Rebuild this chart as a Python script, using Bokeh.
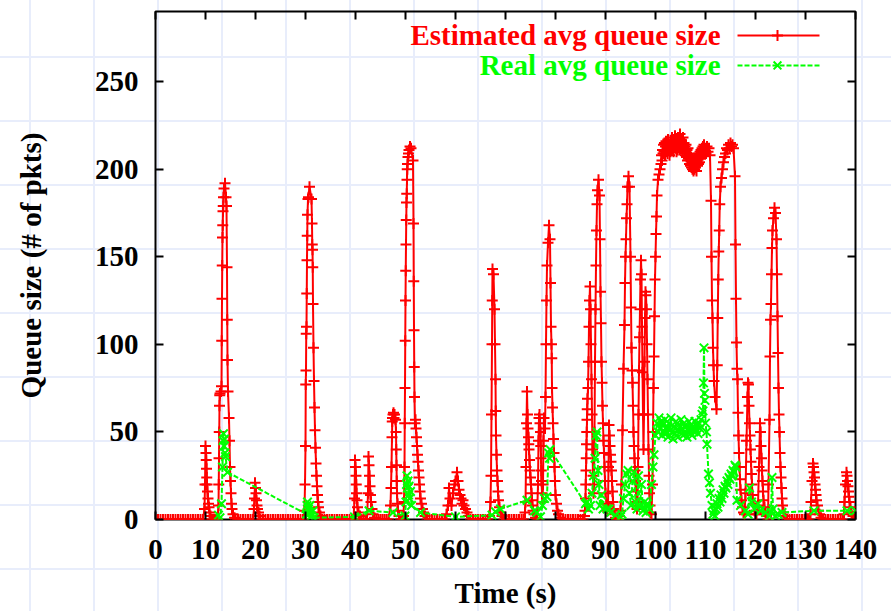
from bokeh.plotting import figure
from bokeh.models import Range1d, LinearAxis, FixedTicker, Label
from bokeh.embed import file_html
from bokeh.resources import INLINE

# ---------------- data ----------------
X_TICKS = [0, 10, 20, 30, 40, 50, 60, 70, 80, 90, 100, 110, 120, 130, 140]
Y_TICKS = [0, 50, 100, 150, 200, 250]
SERIES_NAMES = ["Estimated avg queue size", "Real avg queue size"]

# Estimated avg queue size: (time s, packets)
estimated = [
    (0.0, 0), (0.5, 0), (1.0, 0), (1.5, 0), (2.0, 0), (2.5, 0), (3.0, 0), (3.5, 0), (4.0, 0), (4.5, 0),
    (5.0, 0), (5.5, 0), (6.0, 0), (6.5, 0), (7.0, 0), (7.5, 0), (8.0, 0), (8.5, 0), (9.0, 0), (9.5, 0),
    (9.8, 6), (9.9, 20), (10.0, 42), (10.1, 38), (10.15, 34), (10.2, 29), (10.25, 24), (10.3, 20), (10.4, 16),
    (10.5, 12), (10.6, 9), (10.7, 7), (10.8, 4), (11.0, 2), (11.3, 0), (11.7, 0), (12.1, 0), (12.4, 0),
    (12.6, 8), (12.65, 20), (12.7, 35), (12.75, 50), (12.8, 65), (12.85, 71), (12.9, 72), (13.1, 73), (13.2, 76),
    (13.25, 102), (13.3, 126), (13.35, 145), (13.4, 161), (13.45, 168), (13.5, 176), (13.55, 179), (13.6, 184),
    (13.7, 189), (13.9, 192), (14.1, 184), (14.2, 179), (14.3, 144), (14.35, 114), (14.4, 91), (14.5, 73),
    (14.7, 58), (14.8, 45), (14.9, 30), (15.0, 22), (15.1, 15), (15.2, 9), (15.3, 6), (15.5, 3), (15.8, 1),
    (16.0, 0), (16.5, 0), (17.0, 0), (17.5, 0), (18.0, 0), (18.5, 0), (19.0, 0), (19.5, 0),
    (19.7, 6), (19.8, 12), (19.9, 21), (20.0, 18), (20.1, 15), (20.2, 11), (20.3, 8), (20.4, 6), (20.6, 4), (20.8, 2),
    (21.0, 0), (21.5, 0), (22.0, 0), (22.5, 0), (23.0, 0), (23.5, 0), (24.0, 0), (24.5, 0), (25.0, 0), (25.5, 0),
    (26.0, 0), (26.5, 0), (27.0, 0), (27.5, 0), (28.0, 0), (28.5, 0), (29.0, 0), (29.5, 0),
    (29.8, 5), (29.9, 20), (30.0, 42), (30.05, 77), (30.1, 85), (30.15, 106), (30.2, 110), (30.25, 129),
    (30.3, 148), (30.35, 162), (30.4, 174), (30.5, 183), (30.6, 184), (30.8, 190), (31.2, 183), (31.3, 169),
    (31.35, 157), (31.4, 154), (31.45, 144), (31.5, 123), (31.6, 98), (31.7, 79), (31.8, 64), (31.9, 51),
    (32.0, 41), (32.1, 32), (32.2, 25), (32.3, 19), (32.4, 14), (32.5, 10), (32.6, 7), (32.8, 4), (33.0, 2),
    (33.3, 0), (33.8, 0), (34.3, 0), (34.8, 0), (35.3, 0), (35.8, 0), (36.3, 0), (36.8, 0), (37.3, 0), (37.8, 0),
    (38.3, 0), (38.8, 0), (39.3, 0),
    (39.6, 0), (39.8, 12), (39.9, 34), (40.0, 30), (40.1, 25), (40.15, 20), (40.2, 15), (40.3, 11), (40.4, 7),
    (40.6, 4), (40.9, 2), (41.2, 0), (41.6, 0), (42.0, 0), (42.3, 0),
    (42.5, 15), (42.6, 36), (42.7, 31), (42.8, 25), (42.9, 19), (43.0, 14), (43.1, 10), (43.3, 6), (43.5, 3),
    (43.8, 1), (44.2, 0), (44.6, 0), (45.0, 0), (45.4, 0), (45.8, 0), (46.2, 0), (46.6, 0),
    (47.0, 8), (47.1, 18), (47.2, 30), (47.3, 47), (47.35, 56), (47.4, 58), (47.5, 60), (47.6, 61), (47.7, 58),
    (47.8, 60), (48.0, 57), (48.1, 50), (48.15, 40), (48.2, 31), (48.25, 22), (48.3, 15), (48.4, 9), (48.5, 5),
    (48.7, 2), (49.0, 0), (49.3, 0),
    (49.6, 2), (49.7, 10), (49.8, 30), (49.85, 55), (49.9, 75), (49.95, 102), (50.0, 125), (50.05, 142),
    (50.1, 157), (50.15, 171), (50.2, 181), (50.25, 186), (50.3, 194), (50.35, 200), (50.4, 203), (50.5, 207),
    (50.6, 209), (50.7, 211), (50.9, 213), (51.1, 212), (51.5, 205), (51.6, 169), (51.65, 136), (51.7, 108),
    (51.75, 87), (51.8, 70), (51.9, 55), (52.0, 57), (52.1, 52), (52.2, 47), (52.3, 42), (52.4, 37), (52.5, 33),
    (52.6, 28), (52.7, 24), (52.8, 20), (52.9, 16), (53.0, 12), (53.2, 9), (53.4, 6), (53.6, 4), (53.9, 2),
    (54.3, 0), (54.8, 0), (55.3, 0), (55.8, 0), (56.3, 0), (56.8, 0), (57.3, 0), (57.8, 0),
    (58.2, 3), (58.5, 8), (58.7, 18), (58.9, 12), (59.2, 8), (59.5, 15), (59.8, 20), (60.0, 22), (60.3, 27),
    (60.5, 22), (60.7, 17), (60.9, 14), (61.1, 12), (61.3, 9), (61.5, 11), (61.7, 8), (62.0, 6), (62.3, 4), (62.6, 2),
    (63.0, 0), (63.5, 0), (64.0, 0), (64.5, 0), (65.0, 0), (65.5, 0), (66.0, 0), (66.5, 0),
    (66.8, 2), (67.0, 10), (67.1, 25), (67.2, 60), (67.3, 100), (67.35, 125), (67.4, 143), (67.6, 140),
    (67.8, 120), (67.9, 100), (68.0, 80), (68.05, 62), (68.1, 48), (68.2, 37), (68.3, 28), (68.4, 22),
    (68.5, 16), (68.6, 11), (68.8, 7), (69.0, 4), (69.3, 2),
    (69.7, 0), (70.2, 0), (70.7, 0), (71.2, 0), (71.7, 0), (72.2, 0), (72.7, 0), (73.2, 0), (73.6, 0),
    (73.9, 4), (74.0, 10), (74.1, 30), (74.2, 55), (74.3, 73), (74.4, 60), (74.5, 52), (74.6, 47), (74.65, 43),
    (74.7, 40), (74.8, 34), (74.9, 28), (75.0, 24), (75.1, 20), (75.2, 15), (75.3, 11), (75.4, 8), (75.5, 5),
    (75.7, 3), (76.0, 1), (76.3, 0),
    (76.5, 20), (76.6, 45), (76.7, 58), (76.8, 60), (76.9, 55), (77.0, 50), (77.05, 42), (77.1, 35), (77.15, 28),
    (77.2, 22), (77.3, 15), (77.4, 10), (77.5, 20), (77.6, 45), (77.7, 58), (77.9, 52), (78.0, 70), (78.1, 100),
    (78.2, 125), (78.3, 145), (78.5, 158), (78.7, 168), (78.9, 160), (79.0, 135), (79.1, 110), (79.2, 100),
    (79.25, 92), (79.3, 75), (79.4, 64), (79.5, 55), (79.6, 46), (79.7, 38), (79.8, 30), (79.9, 22), (80.0, 14),
    (80.2, 9), (80.4, 5), (80.6, 3), (81.0, 1),
    (81.5, 0), (82.0, 0), (82.5, 0), (83.0, 0), (83.5, 0), (84.0, 0), (84.5, 0), (85.0, 0), (85.5, 0),
    (85.8, 2), (85.9, 5), (86.0, 12), (86.05, 20), (86.1, 28), (86.15, 35), (86.2, 43), (86.25, 50), (86.3, 57),
    (86.35, 63), (86.4, 69), (86.5, 75), (86.6, 90), (86.7, 110), (86.8, 125), (86.9, 133), (87.0, 120),
    (87.1, 100), (87.2, 80), (87.3, 60), (87.4, 40), (87.5, 25), (87.6, 15), (87.7, 20), (87.8, 50), (87.9, 90),
    (88.0, 120), (88.1, 145), (88.2, 165), (88.3, 180), (88.4, 188), (88.6, 194), (88.8, 185), (88.9, 160),
    (89.0, 130), (89.1, 112), (89.2, 90), (89.3, 78), (89.4, 65), (89.5, 55), (89.6, 45), (89.7, 38), (89.8, 30),
    (89.9, 22), (90.0, 15), (90.2, 9), (90.4, 5),
    (90.5, 8), (90.6, 30), (90.7, 54), (90.8, 48), (90.9, 42), (91.0, 37), (91.1, 33), (91.2, 28), (91.3, 22),
    (91.4, 16), (91.5, 10), (91.6, 6), (91.8, 3), (92.0, 1), (92.3, 0), (92.6, 0),
    (92.8, 2), (93.0, 5), (93.2, 20), (93.4, 51), (93.6, 86), (93.8, 111), (93.9, 135), (94.0, 150), (94.1, 160),
    (94.2, 172), (94.3, 180), (94.4, 190), (94.6, 196), (94.8, 190), (95.0, 150), (95.1, 121), (95.2, 98),
    (95.3, 85), (95.4, 78), (95.5, 65), (95.6, 50), (95.7, 42), (95.8, 35), (95.9, 28), (96.0, 22), (96.1, 16),
    (96.2, 10), (96.3, 6),
    (96.4, 8), (96.5, 30), (96.6, 60), (96.7, 85), (96.8, 104), (96.9, 120), (97.0, 137), (97.1, 148),
    (97.2, 140), (97.3, 110), (97.4, 84), (97.5, 60), (97.6, 40), (97.7, 60), (97.8, 90), (97.9, 115),
    (98.0, 130), (98.1, 128), (98.2, 120), (98.3, 100), (98.4, 80), (98.5, 60), (98.6, 40), (98.7, 25),
    (98.8, 15), (98.9, 8), (99.0, 4),
    (99.2, 3), (99.4, 20), (99.5, 50), (99.6, 75), (99.7, 93), (99.8, 116), (99.9, 137), (100.0, 150),
    (100.1, 163), (100.2, 173), (100.3, 185), (100.5, 194), (100.7, 197), (100.9, 200), (101.1, 203),
    (101.2, 208), (101.3, 205), (101.4, 211), (101.5, 209), (101.6, 214), (101.7, 210), (101.8, 215),
    (101.9, 208), (102.0, 213), (102.1, 216), (102.2, 210), (102.3, 214), (102.4, 209), (102.5, 217),
    (102.6, 211), (102.7, 214), (102.8, 208), (102.9, 213), (103.0, 210), (103.1, 216), (103.2, 211),
    (103.3, 218), (103.4, 212), (103.5, 215), (103.6, 210), (103.7, 217), (103.8, 213), (103.9, 219),
    (104.0, 212), (104.1, 216), (104.2, 210), (104.3, 214), (104.4, 211), (104.5, 218), (104.6, 213),
    (104.7, 216), (104.8, 211), (104.9, 220), (105.0, 214), (105.1, 217), (105.2, 212), (105.3, 215),
    (105.4, 210), (105.5, 218), (105.6, 213), (105.7, 215), (105.8, 209), (105.9, 213), (106.0, 208),
    (106.1, 214), (106.2, 207), (106.3, 211), (106.4, 205), (106.5, 212), (106.6, 206), (106.7, 209),
    (106.8, 203), (106.9, 208), (107.0, 202), (107.1, 207), (107.2, 201), (107.3, 206), (107.4, 200),
    (107.5, 205), (107.6, 199), (107.7, 204), (107.8, 200), (107.9, 206), (108.0, 201), (108.1, 205),
    (108.2, 199), (108.3, 207), (108.4, 202), (108.5, 208), (108.6, 203), (108.7, 209), (108.8, 204),
    (108.9, 210), (109.0, 206), (109.1, 211), (109.2, 207), (109.3, 212), (109.4, 208), (109.5, 213),
    (109.6, 209), (109.7, 214), (109.8, 210), (109.9, 212), (110.1, 209), (110.3, 213), (110.5, 210),
    (110.7, 212), (110.9, 208),
    (111.1, 182), (111.2, 150), (111.3, 125), (111.4, 115), (111.5, 98), (111.6, 88), (111.7, 79), (111.9, 70),
    (112.2, 63), (112.35, 88), (112.45, 115), (112.55, 137), (112.65, 153), (112.75, 165), (112.85, 180),
    (113.0, 190), (113.2, 195), (113.4, 200), (113.6, 204), (113.8, 207), (114.0, 209), (114.2, 212),
    (114.4, 211), (114.6, 214), (114.8, 212), (115.0, 215), (115.2, 213), (115.4, 214), (115.6, 212),
    (115.9, 196), (116.0, 157), (116.1, 126), (116.2, 101), (116.3, 86), (116.4, 80), (116.5, 61), (116.6, 48),
    (116.7, 38), (116.8, 30), (116.9, 23), (117.0, 17), (117.2, 11), (117.4, 7), (117.6, 4),
    (117.8, 3), (118.0, 15), (118.2, 45), (118.4, 70), (118.5, 78), (118.6, 77), (118.7, 65), (118.8, 55),
    (118.9, 48), (119.0, 40), (119.1, 33), (119.2, 26), (119.3, 20), (119.4, 14), (119.6, 9), (119.8, 5),
    (120.0, 3), (120.2, 3), (120.5, 8), (120.7, 30), (120.9, 55), (121.0, 50), (121.1, 42), (121.2, 35),
    (121.3, 28), (121.4, 22), (121.5, 16), (121.6, 11), (121.8, 7), (122.0, 4), (122.2, 2),
    (122.5, 0), (122.6, 20), (122.8, 57), (122.9, 93), (123.0, 114), (123.1, 123), (123.2, 140), (123.3, 155),
    (123.4, 165), (123.6, 172), (123.8, 178), (124.0, 175), (124.2, 160), (124.3, 140), (124.4, 116),
    (124.5, 95), (124.6, 75), (124.7, 60), (124.8, 50), (124.9, 38), (125.0, 30), (125.1, 24), (125.2, 18),
    (125.3, 12), (125.4, 8), (125.6, 4), (125.9, 2),
    (126.3, 0), (126.8, 0), (127.3, 0), (127.8, 0), (128.3, 0), (128.8, 0), (129.3, 0), (129.8, 0),
    (130.3, 0), (130.7, 0),
    (131.0, 3), (131.1, 10), (131.3, 22), (131.5, 32), (131.6, 30), (131.7, 27), (131.8, 24), (131.9, 20),
    (132.0, 17), (132.1, 14), (132.2, 11), (132.4, 8), (132.6, 5), (132.8, 3), (133.1, 1),
    (133.5, 0), (134.0, 0), (134.5, 0), (135.0, 0), (135.5, 0), (136.0, 0), (136.5, 0), (137.0, 0), (137.4, 0),
    (137.7, 3), (137.8, 10), (138.0, 20), (138.2, 27), (138.3, 25), (138.4, 22), (138.5, 19), (138.6, 16),
    (138.7, 13), (138.8, 10), (139.0, 7), (139.2, 4), (139.5, 2), (139.8, 0), (140.0, 0),
]

# Real avg queue size: (time s, packets)
real = [
    (12.6, 2.5), (12.9, 1), (13.2, 9), (13.4, 30), (13.5, 45), (13.6, 49), (13.7, 42), (13.8, 46), (13.9, 38),
    (14.0, 36), (14.4, 27),
    (30.2, 3), (30.3, 8), (30.4, 10), (30.6, 6), (30.7, 3), (30.9, 8), (31.0, 4), (31.2, 2), (31.5, 5), (31.7, 1),
    (39.8, 1.5), (42.7, 5), (47.5, 4), (49.9, 2), (50.1, 10), (50.2, 20), (50.3, 25), (50.4, 18), (50.5, 22),
    (50.6, 14), (50.7, 19), (50.8, 12), (51.0, 16), (51.2, 8), (53.0, 4),
    (60.0, 1.5), (67.3, 2.5), (68.0, 4.4), (69.0, 6), (74.3, 11), (75.8, 5), (76.3, 4), (77.0, 1.6),
    (77.4, 8), (77.8, 12), (78.3, 13), (78.6, 38), (78.8, 35), (78.9, 40),
    (86.0, 9), (86.3, 10), (86.6, 6), (87.0, 8), (87.3, 15), (87.6, 25), (87.9, 35), (88.1, 48), (88.3, 50),
    (88.5, 28), (88.7, 20), (88.9, 8), (89.2, 14), (89.5, 6), (90.3, 6), (90.7, 6), (91.0, 4), (92.0, 2.5),
    (93.0, 1.5), (93.3, 3), (93.6, 12), (93.9, 20), (94.2, 26), (94.5, 28), (94.8, 15), (95.1, 8), (95.4, 22),
    (95.7, 27), (96.0, 10), (96.3, 6), (96.6, 25), (96.9, 8), (97.2, 20), (97.5, 5), (97.8, 10), (98.1, 4),
    (98.4, 9), (98.8, 6), (99.2, 20), (99.5, 30), (99.7, 37), (100.0, 48),
    (100.3, 55), (100.5, 50), (100.7, 58), (100.9, 52), (101.1, 56), (101.3, 48), (101.5, 54), (101.7, 50),
    (101.9, 57), (102.1, 49), (102.3, 53), (102.5, 47), (102.7, 55), (102.9, 51), (103.1, 58), (103.3, 50),
    (103.5, 46), (103.7, 53), (103.9, 49), (104.1, 56), (104.3, 51), (104.5, 47), (104.7, 54), (104.9, 50),
    (105.1, 57), (105.3, 52), (105.5, 48), (105.7, 55), (105.9, 49), (106.1, 53), (106.3, 47), (106.5, 52),
    (106.7, 56), (106.9, 50), (107.1, 54), (107.3, 48), (107.5, 53), (107.7, 50), (107.9, 56), (108.1, 51),
    (108.3, 54), (108.5, 49), (108.7, 55), (108.9, 52), (109.1, 57), (109.3, 60), (109.5, 62), (109.6, 78),
    (109.7, 98), (109.8, 72), (109.9, 68), (110.0, 55), (110.2, 50), (110.3, 43), (110.6, 26), (110.8, 21),
    (111.0, 15), (111.3, 8), (111.5, 3), (111.7, 5), (111.9, 2), (112.1, 6), (112.3, 9), (112.5, 7),
    (112.7, 12), (112.9, 10), (113.1, 14), (113.3, 12), (113.5, 17), (113.7, 15), (113.9, 19), (114.1, 18),
    (114.3, 22), (114.5, 20), (114.7, 24), (114.9, 23), (115.1, 26), (115.3, 25), (115.5, 28), (115.7, 27),
    (115.9, 31), (116.1, 30), (116.3, 11),
    (117.0, 8), (118.0, 5), (118.5, 3), (118.8, 18), (119.2, 10), (119.8, 6), (120.5, 9), (121.0, 5),
    (122.0, 4), (122.8, 2), (123.1, 4), (123.3, 24), (123.5, 6), (124.0, 2), (124.5, 3), (125.3, 4),
    (131.7, 5), (138.3, 5), (140.0, 5),
]

est_t = [t for t, _ in estimated]
est_v = [v for _, v in estimated]
real_t = [t for t, _ in real]
real_v = [v for _, v in real]

RED = "#ff0000"
GREEN = "#00ff00"
FONT = "Liberation Serif"
FS = "29px"

p = figure(width=891, height=611, x_range=Range1d(0, 140), y_range=Range1d(0, 290),
           output_backend="svg", toolbar_location=None,
           min_border_left=155, min_border_right=36, min_border_top=11, min_border_bottom=92)

p.border_fill_color = None
p.background_fill_color = None
p.outline_line_color = "black"
p.outline_line_width = 2
p.xgrid.visible = False
p.ygrid.visible = False
p.styles = {
    "background-color": "#ffffff",
    "background-image": "linear-gradient(to right, #e8edfb 2px, transparent 2px), "
                        "linear-gradient(to bottom, #e8edfb 2px, transparent 2px)",
    "background-size": "64px 64px",
    "background-position": "29px 56px",
}

for ax, ticks in ((p.xaxis[0], X_TICKS), (p.yaxis[0], Y_TICKS)):
    ax.ticker = FixedTicker(ticks=ticks)
    ax.major_tick_in = 8
    ax.major_tick_out = 0
    ax.major_tick_line_width = 2
    ax.major_tick_line_color = "black"
    ax.minor_tick_line_color = None
    ax.axis_line_color = None
    ax.major_label_text_font = FONT
    ax.major_label_text_font_style = "bold"
    ax.major_label_text_font_size = FS
    ax.major_label_text_color = "black"
    ax.axis_label_text_font = FONT
    ax.axis_label_text_font_style = "bold"
    ax.axis_label_text_font_size = FS
    ax.axis_label_text_color = "black"

p.xaxis.axis_label = "Time (s)"
p.yaxis.axis_label = "Queue size (# of pkts)"
p.xaxis.major_label_standoff = 20
p.xaxis.axis_label_standoff = 15
p.yaxis.major_label_standoff = 17
p.yaxis.axis_label_standoff = 45

for loc, ticks in (("above", X_TICKS), ("right", Y_TICKS)):
    ax = LinearAxis(ticker=FixedTicker(ticks=ticks), major_tick_in=8, major_tick_out=0,
                    major_tick_line_width=2, minor_tick_line_color=None, axis_line_color=None,
                    major_label_text_font_size="0px", major_label_text_alpha=0,
                    major_label_standoff=0)
    p.add_layout(ax, loc)

# data series
p.line(est_t, est_v, line_color=RED, line_width=2)
p.scatter(est_t, est_v, marker="cross", size=11, line_color=RED, line_width=2)
p.line(real_t, real_v, line_color=GREEN, line_width=2, line_dash="5 2")
p.scatter(real_t, real_v, marker="x", size=12, line_color=GREEN, line_width=2)

# legend (gnuplot style: text right-aligned, sample to the right)
LEG_TEXT_X = 113.0
LEG_X0, LEG_X1, LEG_XM = 116.4, 132.8, 124.4
LEG_Y = [276.3, 259.2]
for name, color, dash, marker, y in ((SERIES_NAMES[0], RED, "solid", "cross", LEG_Y[0]),
                                     (SERIES_NAMES[1], GREEN, "5 2", "x", LEG_Y[1])):
    p.add_layout(Label(x=LEG_TEXT_X, y=y, text=name, text_align="right", text_baseline="middle",
                       text_font=FONT, text_font_style="bold", text_font_size=FS, text_color=color))
    p.line([LEG_X0, LEG_X1], [y, y], line_color=color, line_width=2, line_dash=dash)
    p.scatter([LEG_XM], [y], marker=marker, size=11, line_color=color, line_width=2)

open("out.html", "w").write(file_html(p, INLINE))
